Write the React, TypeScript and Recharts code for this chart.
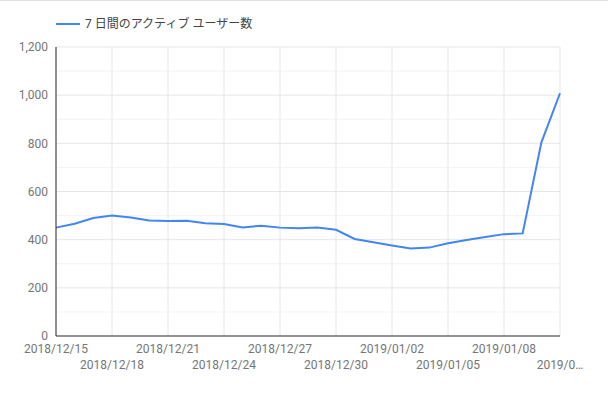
import { LineChart, Line, XAxis, YAxis, CartesianGrid, ReferenceLine } from "recharts";

const DATES = [
  "2018/12/15", "2018/12/16", "2018/12/17", "2018/12/18", "2018/12/19", "2018/12/20", "2018/12/21",
  "2018/12/22", "2018/12/23", "2018/12/24", "2018/12/25", "2018/12/26", "2018/12/27", "2018/12/28",
  "2018/12/29", "2018/12/30", "2018/12/31", "2019/01/01", "2019/01/02", "2019/01/03", "2019/01/04",
  "2019/01/05", "2019/01/06", "2019/01/07", "2019/01/08", "2019/01/09", "2019/01/10", "2019/01/11",
];

const USERS_7D = [
  450, 466, 490, 500, 492, 480, 477, 479, 468, 465, 451, 458, 450, 447,
  450, 441, 403, 389, 376, 363, 367, 385, 399, 411, 423, 426, 803, 1008,
];

const Y_TICKS = [0, 200, 400, 600, 800, 1000, 1200];
const Y_MINOR = [100, 300, 500, 700, 900, 1100];

const SERIES_NAME = "7 日間のアクティブ ユーザー数";

const data = DATES.map((date, i) => ({ date, users: USERS_7D[i] }));

const FONT = "Roboto, 'Noto Sans CJK JP', sans-serif";

function DateTick(props: any) {
  const { x, y, payload } = props;
  const idx = DATES.indexOf(payload.value);
  const row = Math.round(idx / 3) % 2;
  const label = idx === DATES.length - 1 ? payload.value.slice(0, 6) + "…" : payload.value;
  return (
    <text x={x} y={y + row * 16} dy="0.71em" textAnchor="middle" fill="#757575" fontSize={12} fontFamily={FONT}>
      {label}
    </text>
  );
}

export default function App() {
  return (
    <div style={{ position: "absolute", left: 0, top: 0, width: 608, height: 398, background: "#fff" }}>
      <div style={{ position: "absolute", left: 0, top: 0, width: 608, borderTop: "1px solid #e0e0e0" }} />
      {/* legend */}
      <div style={{ position: "absolute", left: 56, top: 15, height: 18, display: "flex", alignItems: "center" }}>
        <svg width={24} height={18}>
          <line x1={0} y1={9} x2={24} y2={9} stroke="#4285f4" strokeWidth={2} />
        </svg>
        <span style={{ marginLeft: 5, fontSize: 12, color: "#444", fontFamily: FONT, lineHeight: "18px" }}>
          {SERIES_NAME}
        </span>
      </div>
      <LineChart width={608} height={398} data={data} margin={{ top: 47, right: 48, bottom: 0, left: 0 }}>
        <CartesianGrid stroke="#e6e6e6" strokeWidth={1} />
        {Y_MINOR.map((v) => (
          <ReferenceLine key={v} y={v} stroke="#f3f3f3" strokeWidth={1} />
        ))}
        <XAxis
          dataKey="date"
          interval={2}
          height={62}
          tickLine={false}
          axisLine={{ stroke: "#333" }}
          tick={<DateTick />}
        />
        <YAxis
          width={56}
          domain={[0, 1200]}
          ticks={Y_TICKS}
          tickLine={false}
          axisLine={{ stroke: "#333" }}
          tickFormatter={(v: number) => v.toLocaleString("en-US")}
          tick={{ fill: "#757575", fontSize: 12, fontFamily: FONT }}
        />
        <Line
          type="linear"
          dataKey="users"
          stroke="#4285f4"
          strokeWidth={2}
          dot={false}
          isAnimationActive={false}
        />
      </LineChart>
    </div>
  );
}
